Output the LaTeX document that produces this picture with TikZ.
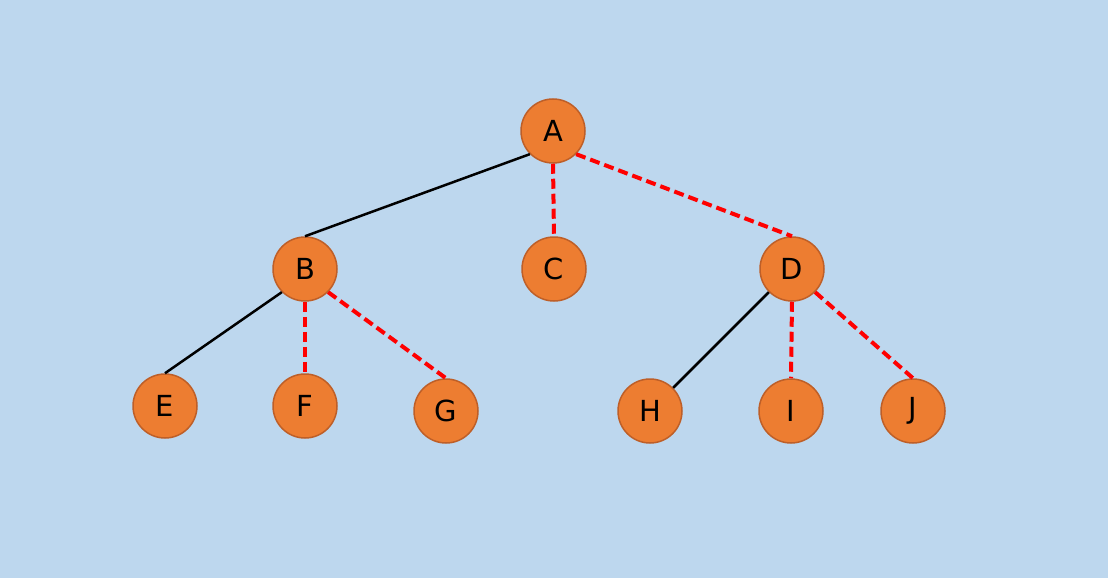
\documentclass[tikz,border=0pt]{standalone}
\usepackage{fontspec}
\setmainfont{DejaVu Sans}
\begin{document}
\begin{tikzpicture}[x=1pt,y=-1pt,
  vert/.style={circle,fill=nodeor,draw=nodebd,line width=1.5pt,minimum size=64pt,inner sep=0pt,font=\fontsize{29}{29}\selectfont},
  solidedge/.style={draw=black,line width=2.5pt},
  dashedge/.style={draw=red,line width=4pt,dash pattern=on 10pt off 5pt}]
\definecolor{bg}{HTML}{BDD7EE}
\definecolor{nodeor}{HTML}{ED7D31}
\definecolor{nodebd}{HTML}{BE5F28}
\fill[bg] (0,0) rectangle (1108,578);
\useasboundingbox (0,0) rectangle (1108,578);
\node[vert] (A) at (553,131) {A};
\node[vert] (B) at (305,269) {B};
\node[vert] (C) at (554,269) {C};
\node[vert] (D) at (792,269) {D};
\node[vert] (E) at (165,406) {E};
\node[vert] (F) at (305,406) {F};
\node[vert] (G) at (446,411) {G};
\node[vert] (H) at (650,411) {H};
\node[vert] (I) at (791,411) {I};
\node[vert] (J) at (913,411) {J};
\path[solidedge] (A.south west) -- (B.north);
\path[dashedge] (A.south) -- (C.north);
\path[dashedge] (A.south east) -- (D.north);
\path[solidedge] (B.south west) -- (E.north);
\path[dashedge] (B.south) -- (F.north);
\path[dashedge] (B.south east) -- (G.north);
\path[solidedge] (D.south west) -- (H.north east);
\path[dashedge] (D.south) -- (I.north);
\path[dashedge] (D.south east) -- (J.north);
\end{tikzpicture}
\end{document}
